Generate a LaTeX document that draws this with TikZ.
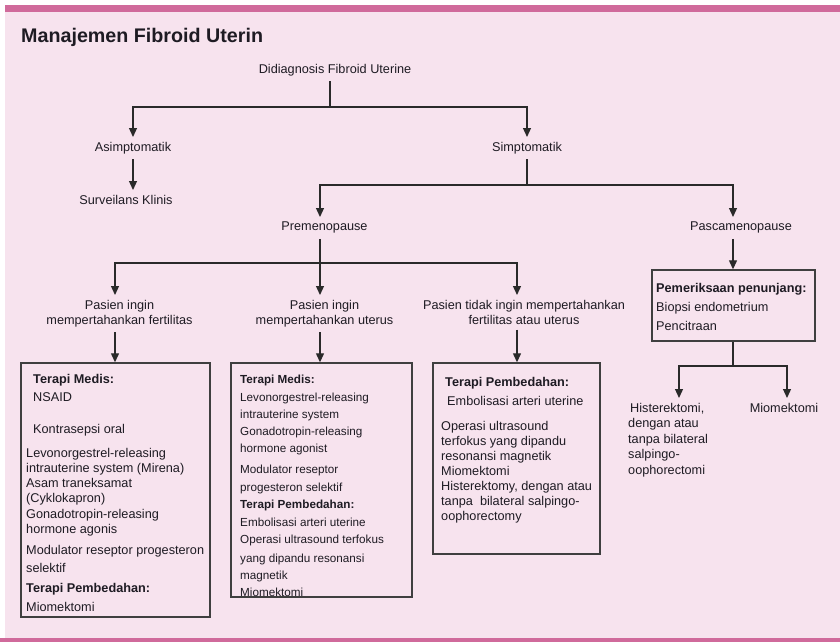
\documentclass[tikz,border=0pt]{standalone}
\usepackage{fontspec}
\setmainfont{Liberation Sans}
\usetikzlibrary{arrows.meta}
\definecolor{bgpink}{RGB}{247,227,238}
\definecolor{bandpink}{RGB}{208,106,155}
\definecolor{inkc}{RGB}{30,27,35}
\definecolor{linec}{RGB}{42,42,42}
\newcommand\fsA{\fontsize{12.7pt}{15pt}\selectfont}
\newcommand\fsB{\fontsize{11.7pt}{15pt}\selectfont}
\begin{document}
\begin{tikzpicture}[x=1pt,y=-1pt,
  txt/.style={text=inkc,font=\fsA,inner xsep=0pt,inner ysep=5pt},
  txtc/.style={txt,align=center},
  lineA/.style={text=inkc,font=\fsA,inner sep=0pt,anchor=base west},
  lineB/.style={text=inkc,font=\fsB,inner sep=0pt,anchor=base west},
  boxed/.style={draw=linec!90,line width=1.4pt,inner sep=0pt},
  conn/.style={draw=linec,line width=1.25pt},
  arr/.style={conn,-{Triangle[length=9pt,width=8pt]}}]
\useasboundingbox (0,0) rectangle (840,642);
% background
\fill[white] (0,0) rectangle (840,642);
\fill[bgpink] (5,5) rectangle (840,642);
\fill[bandpink] (5,5) rectangle (840,12);
\fill[bandpink] (0,638) rectangle (840,642);
% column coordinates
\coordinate (xA) at (133,0);
\coordinate (xS) at (527,0);
\coordinate (xP) at (320,0);
\coordinate (xQ) at (733,0);
\coordinate (xF) at (115,0);
\coordinate (xT) at (517,0);
\coordinate (xH) at (679,0);
\coordinate (xM) at (787,0);
\coordinate (j1) at (330,107);
\coordinate (j2) at (527,185);
\coordinate (j3) at (320,263);
\coordinate (j4) at (733,366);
% title
\node[text=inkc,font=\fontsize{19.7pt}{22pt}\selectfont\bfseries,inner sep=0pt,anchor=base west] (title) at (21,43) {Manajemen Fibroid Uterin};
% tree nodes
\node[txt,anchor=base] (diag) at (335,73.5) {Didiagnosis Fibroid Uterine};
\node[txt,anchor=north] (asim) at (133,137) {Asimptomatik};
\node[txt,anchor=north] (simp) at (527,137) {Simptomatik};
\node[txt,anchor=north] (surv) at (126,190) {Surveilans Klinis};
\node[txt,anchor=north] (premen) at (324.5,217) {Premenopause};
\node[txt,anchor=north] (pasca) at (741,217) {Pascamenopause};
\node[txtc,anchor=north] (pf) at (119.5,295) {Pasien ingin\\mempertahankan fertilitas};
\node[txtc,anchor=north] (pu) at (324.5,295) {Pasien ingin\\mempertahankan uterus};
\node[txtc,anchor=north] (pt) at (524,295) {Pasien tidak ingin mempertahankan\\fertilitas atau uterus};
% boxes
\node[boxed,minimum width=189pt,minimum height=254pt] (boxL) at (115.5,490) {};
\node[boxed,minimum width=181pt,minimum height=234pt] (boxM) at (321.5,480) {};
\node[boxed,minimum width=167pt,minimum height=191pt] (boxR) at (516.5,458.5) {};
\node[boxed,minimum width=163pt,minimum height=71pt] (boxP) at (733.5,305.5) {};
% left box text
\node[lineA] (l1) at (33,383) {\textbf{Terapi Medis:}};
\node[lineA] (l2) at (33,401) {NSAID};
\node[lineA] (l3) at (33,433) {Kontrasepsi oral};
\node[lineA] (l4) at (26,457) {Levonorgestrel-releasing};
\node[lineA] (l5) at (26,472) {intrauterine system (Mirena)};
\node[lineA] (l6) at (26,487) {Asam traneksamat};
\node[lineA] (l7) at (26,502) {(Cyklokapron)};
\node[lineA] (l8) at (26,518) {Gonadotropin-releasing};
\node[lineA] (l9) at (26,533) {hormone agonis};
\node[lineA] (l10) at (26,554) {Modulator reseptor progesteron};
\node[lineA] (l11) at (26,572) {selektif};
\node[lineA] (l12) at (26,592) {\textbf{Terapi Pembedahan:}};
\node[lineA] (l13) at (26,611) {Miomektomi};
% middle box text
\node[lineB] (m1) at (240,383) {\textbf{Terapi Medis:}};
\node[lineB] (m2) at (240,401) {Levonorgestrel-releasing};
\node[lineB] (m3) at (240,418) {intrauterine system};
\node[lineB] (m4) at (240,435) {Gonadotropin-releasing};
\node[lineB] (m5) at (240,452) {hormone agonist};
\node[lineB] (m6) at (240,473) {Modulator reseptor};
\node[lineB] (m7) at (240,491) {progesteron selektif};
\node[lineB] (m8) at (240,508) {\textbf{Terapi Pembedahan:}};
\node[lineB] (m9) at (240,526) {Embolisasi arteri uterine};
\node[lineB] (m10) at (240,543) {Operasi ultrasound terfokus};
\node[lineB] (m11) at (240,562) {yang dipandu resonansi};
\node[lineB] (m12) at (240,579) {magnetik};
\node[lineB] (m13) at (240,596.5) {Miomektomi};
% right box text
\node[lineA] (r1) at (445,386) {\textbf{Terapi Pembedahan:}};
\node[lineA] (r2) at (447,405) {Embolisasi arteri uterine};
\node[lineA] (r3) at (441,430) {Operasi ultrasound};
\node[lineA] (r4) at (441,445) {terfokus yang dipandu};
\node[lineA] (r5) at (441,460) {resonansi magnetik};
\node[lineA] (r6) at (441,475) {Miomektomi};
\node[lineA] (r7) at (441,490) {Histerektomy, dengan atau};
\node[lineA] (r8) at (441,505) {tanpa\ \ bilateral salpingo-};
\node[lineA] (r9) at (441,520) {oophorectomy};
% pascamenopause box text
\node[lineA] (p1) at (656,292) {\textbf{Pemeriksaan penunjang:}};
\node[lineA] (p2) at (656,311) {Biopsi endometrium};
\node[lineA] (p3) at (656,330) {Pencitraan};
% bottom right outcomes
\node[txt,anchor=north west,align=left,font=\fontsize{12.7pt}{15.5pt}\selectfont] (hist) at (628,398) {\hspace{2pt}Histerektomi,\\dengan atau\\tanpa bilateral\\salpingo-\\oophorectomi};
\node[txt,anchor=north] (miom) at (784,398) {Miomektomi};
% connectors
\draw[conn] (diag.south -| j1) -- (j1);
\draw[arr] (j1) -| (asim.north -| xA);
\draw[arr] (j1) -| (simp.north -| xS);
\draw[arr] (asim.south -| xA) -- (surv.north -| xA);
\draw[conn] (simp.south -| xS) -- (j2);
\draw[arr] (j2) -| (premen.north -| xP);
\draw[arr] (j2) -| (pasca.north -| xQ);
\draw[conn] (premen.south -| xP) -- (j3);
\draw[arr] (j3) -| (pf.north -| xF);
\draw[arr] (j3) -- (pu.north -| xP);
\draw[arr] (j3) -| (pt.north -| xT);
\draw[arr] (pf.south -| xF) -- (boxL.north -| xF);
\draw[arr] (pu.south -| xP) -- (boxM.north -| xP);
\draw[arr] (pt.south -| xT) -- (boxR.north -| xT);
\draw[arr] (pasca.south -| xQ) -- (boxP.north -| xQ);
\draw[conn] (boxP.south -| xQ) -- (j4);
\draw[arr] (j4) -| (hist.north -| xH);
\draw[arr] (j4) -| (miom.north -| xM);
\end{tikzpicture}
\end{document}
